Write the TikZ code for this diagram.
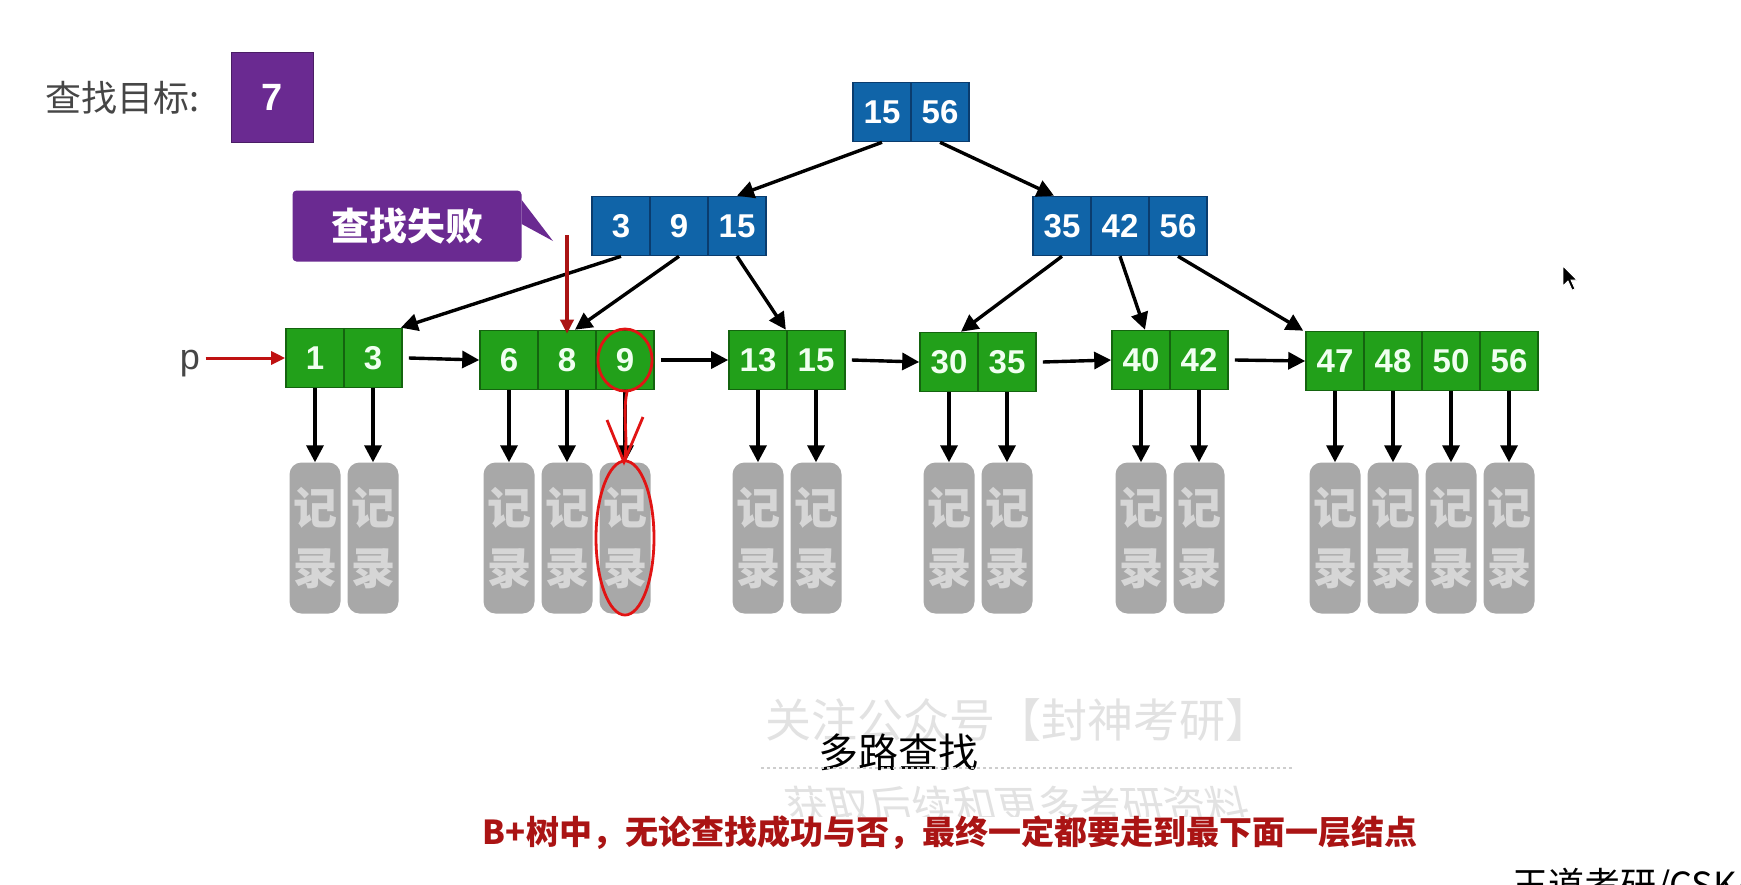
\documentclass[tikz,border=0pt]{standalone}
\usepackage{fontspec}
\setmainfont{Liberation Sans}
\newfontfamily\cjk{Noto Sans CJK SC}
\usetikzlibrary{arrows.meta}
\definecolor{bluefill}{RGB}{16,100,168}
\definecolor{blueline}{RGB}{10,60,110}
\definecolor{greenfill}{RGB}{34,160,26}
\definecolor{greenline}{RGB}{20,100,15}
\definecolor{recfill}{RGB}{168,168,168}
\definecolor{rectext}{RGB}{214,214,214}
\definecolor{purp}{RGB}{106,42,145}
\definecolor{darkred}{RGB}{170,20,20}
\definecolor{penred}{RGB}{225,20,20}
\definecolor{labgray}{RGB}{70,70,70}
\definecolor{wmgray}{RGB}{226,226,226}
\begin{document}
\begin{tikzpicture}[x=1pt,y=-1pt,
  cell/.style={draw, line width=1.6pt, minimum width=58pt, minimum height=59pt, inner sep=0pt, text=white, font=\bfseries\fontsize{33}{33}\selectfont},
  bcell/.style={cell, fill=bluefill, draw=blueline},
  gcell/.style={cell, fill=greenfill, draw=greenline, text=green!6!white},
  rec/.style={fill=recfill, rounded corners=12pt, minimum width=51pt, minimum height=151pt, inner sep=0pt, text=rectext, font=\cjk\bfseries\fontsize{44}{60}\selectfont, align=center},
  arr/.style={line width=3.4pt, -{Triangle[length=17pt,width=17pt]}},
  redarr/.style={line width=3pt, -{Triangle[length=14pt,width=13pt]}},
  pen/.style={draw=penred, line width=2.8pt},
]
\useasboundingbox (0,0) rectangle (1741,884);
\fill[white] (0,0) rectangle (1741,884);

% title
\node[text=labgray, font=\cjk\fontsize{36}{36}\selectfont] (lab) at (123,98) {查找目标:};
\node[fill=purp, draw=purp!70!black, line width=1pt, minimum width=82pt, minimum height=90pt, inner sep=0pt, text=white, font=\bfseries\fontsize{38}{38}\selectfont] (target) at (272,97) {7};

% root
\node[bcell] (r1) at (882,112) {15};
\node[bcell] (r2) at (940,112) {56};
% inner
\node[bcell] (a1) at (621,226) {3};
\node[bcell] (a2) at (679,226) {9};
\node[bcell] (a3) at (737,226) {15};
\node[bcell] (b1) at (1062,226) {35};
\node[bcell] (b2) at (1120,226) {42};
\node[bcell] (b3) at (1178,226) {56};
% leaves
\node[gcell] (L1a) at (315,358) {1};
\node[gcell] (L1b) at (373,358) {3};
\node[gcell] (L2a) at (509,360) {6};
\node[gcell] (L2b) at (567,360) {8};
\node[gcell] (L2c) at (625,360) {9};
\node[gcell] (L3a) at (758,360) {13};
\node[gcell] (L3b) at (816,360) {15};
\node[gcell] (L4a) at (949,362) {30};
\node[gcell] (L4b) at (1007,362) {35};
\node[gcell] (L5a) at (1141,360) {40};
\node[gcell] (L5b) at (1199,360) {42};
\node[gcell] (L6a) at (1335,361) {47};
\node[gcell] (L6b) at (1393,361) {48};
\node[gcell] (L6c) at (1451,361) {50};
\node[gcell] (L6d) at (1509,361) {56};

% records
\foreach \c in {L1a,L1b,L2a,L2b,L2c,L3a,L3b,L4a,L4b,L5a,L5b,L6a,L6b,L6c,L6d}{
  \path (\c.center |- 0,538) node[rec] (rec\c) {记\\录};
  \draw[arr] (\c.south) -- (rec\c.north);
}

% tree edges
\draw[arr] (r1.south) -- (a3.north);
\draw[arr] (r2.south) -- ([xshift=-8pt]b1.north);
\draw[arr] (a1.south) -- ([xshift=-2pt]L1b.north east);
\draw[arr] (a2.south) -- ([xshift=8pt]L2b.north);
\draw[arr] (a3.south) -- ([xshift=-2pt]L3a.north east);
\draw[arr] (b1.south) -- ([xshift=12pt]L4a.north);
\draw[arr] (b2.south) -- ([xshift=4pt]L5a.north);
\draw[arr] (b3.south) -- ([xshift=-2pt]L6a.north west);

% leaf links
\draw[arr] ([xshift=6pt]L1b.east) -- (L2a.west);
\draw[arr] ([xshift=6pt]L2c.east) -- (L3a.west);
\draw[arr] ([xshift=6pt]L3b.east) -- (L4a.west);
\draw[arr] ([xshift=6pt]L4b.east) -- (L5a.west);
\draw[arr] ([xshift=6pt]L5b.east) -- (L6a.west);

% p pointer
\node[text=labgray, font=\fontsize{36}{36}\selectfont] (p) at (190,364) {p};
\draw[redarr, draw=penred!85!black] ([xshift=2pt]p.east |- L1a.west) -- (L1a.west);

% failure callout
\node[fill=purp, rounded corners=4pt, minimum width=229pt, minimum height=71pt, inner sep=0pt, text=white, font=\cjk\bfseries\fontsize{38}{38}\selectfont] (fail) at (407,226) {查找失败};
\coordinate (tip) at (553,241);
\fill[purp] ([yshift=2pt]fail.east) -- (tip) -- ([yshift=26pt]fail.east) -- cycle;
\coordinate (redtop) at (567,235);
\draw[redarr, draw=darkred, line width=3.5pt] (redtop) -- ([yshift=-4pt]L2b.north);

% hand-drawn annotations
\draw[pen] (L2c.center) ellipse [x radius=27pt, y radius=31pt];
\coordinate (hs) at (627,392);
\coordinate (he) at (624,462);
\draw[pen] (hs) .. controls (622,415) and (629,440) .. (he);
\draw[pen] (607,420) -- (he) -- (643,417);
\draw[pen] (recL2c.center) ellipse [x radius=29pt, y radius=77pt];

% watermark and captions
\node[text=wmgray, font=\cjk\fontsize{46}{46}\selectfont] (wm1) at (1018,720) {关注公众号【封神考研】};
\node[text=black, font=\cjk\fontsize{40}{40}\selectfont] (cap) at (898,752) {多路查找};
\draw[wmgray!80!gray, line width=1.2pt, dashed] (wm1.west |- 0,768) -- (1293,768);
\begin{scope}
  \clip (700,780) rectangle (1320,816);
  \node[text=wmgray, font=\cjk\fontsize{42}{42}\selectfont, xslant=-0.25] (wm2) at (1018,806) {获取后续和更多考研资料};
\end{scope}
\node[text=darkred, font=\cjk\bfseries\fontsize{33}{33}\selectfont] (note) at (950,833) {B+树中，无论查找成功与否，最终一定都要走到最下面一层结点};
\node[anchor=north west, text=black, font=\cjk\fontsize{36}{36}\selectfont, inner sep=0pt] (brand) at (1512,868) {王道考研/CSKAOYAN};

% mouse cursor
\filldraw[fill=black, draw=white, line width=0.8pt, shift={(1563,266)}] (0,0) -- (0,20) -- (5,15) -- (9,24) -- (12,23) -- (8,14) -- (14,14) -- cycle;
\end{tikzpicture}
\end{document}
